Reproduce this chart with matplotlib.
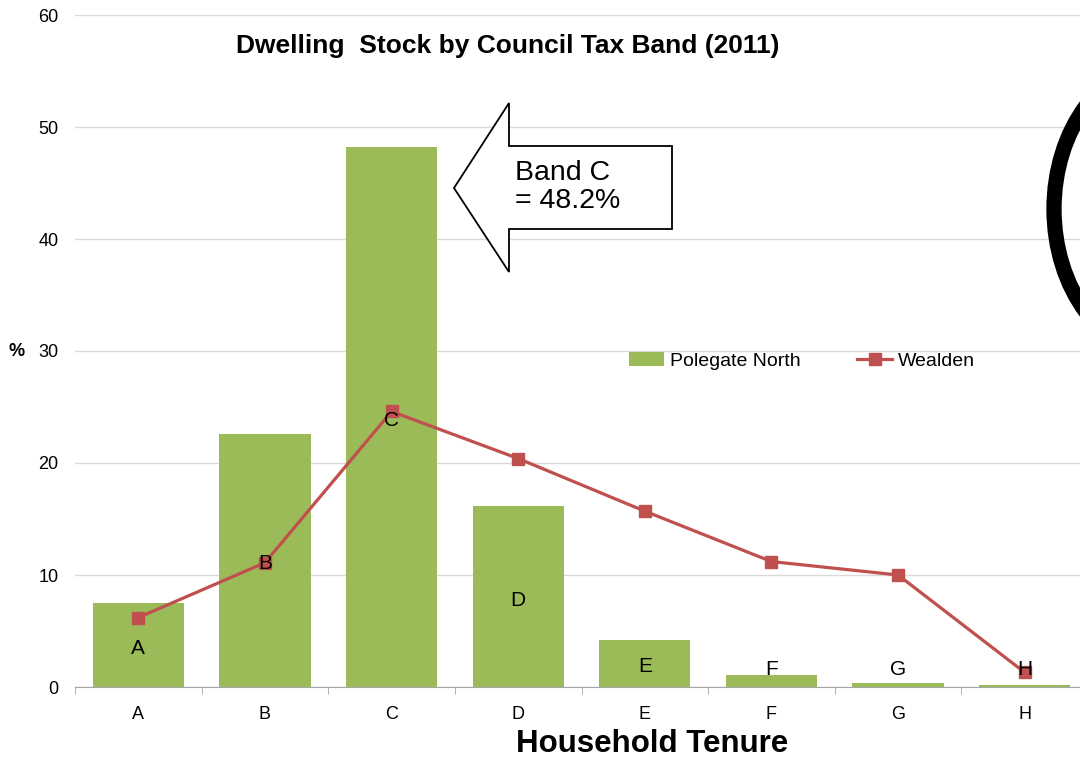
import matplotlib.pyplot as plt
from matplotlib.patches import Polygon, Ellipse
import numpy as np

plt.rcParams['font.family'] = ['Liberation Sans', 'DejaVu Sans']

bands = ['A', 'B', 'C', 'D', 'E', 'F', 'G', 'H']
polegate = [7.5, 22.6, 48.2, 16.2, 4.2, 1.1, 0.35, 0.2]
wealden = [6.2, 11.1, 24.6, 20.4, 15.7, 11.2, 10.0, 1.3]
# heights of the letter labels drawn on the chart
letter_y = [3.4, 11.0, 23.8, 7.7, 1.8, 1.6, 1.6, 1.6]

W, H = 1080, 762
fig = plt.figure(figsize=(W / 100, H / 100), dpi=100)
# plot area runs a little past the right edge of the image
ax = fig.add_axes([75 / W, 1 - 687 / H, (1088 - 75) / W, (687 - 15) / H])

x = np.arange(len(bands))
bars = ax.bar(x, polegate, width=0.72, color='#9BBB59', label='Polegate North', zorder=2)
line, = ax.plot(x, wealden, color='#C0504D', lw=2.3, marker='s', ms=8,
                label='Wealden', zorder=3)

for xi, lab, yv in zip(x, bands, letter_y):
    ax.text(xi, yv, lab, ha='center', va='center', fontsize=15, zorder=4)

ax.set_xlim(-0.5, len(bands) - 0.5)
ax.set_ylim(0, 60)
ax.set_yticks(range(0, 61, 10))
ax.set_xticks(x)
ax.set_xticklabels(bands)
ax.set_xticks(np.arange(-0.5, len(bands)), minor=True)
ax.tick_params(axis='x', which='major', length=0, pad=14, labelsize=13)
ax.tick_params(axis='x', which='minor', length=5, color='#A6A6A6')
ax.tick_params(axis='y', length=0, pad=12, labelsize=13)
ax.grid(axis='y', color='#D9D9D9', lw=1, zorder=0)
ax.set_axisbelow(True)
for s in ['left', 'right', 'top']:
    ax.spines[s].set_visible(False)
ax.spines['bottom'].set_color('#A6A6A6')

ax.legend([bars, line], ['Polegate North', 'Wealden'], loc='center',
          bbox_to_anchor=(0.718, 0.485), ncol=2, frameon=False,
          fontsize=14, handlelength=1.8, columnspacing=2.9, handletextpad=0.3)

fig.text(508 / W, 1 - 46 / H, 'Dwelling  Stock by Council Tax Band (2011)',
         ha='center', va='center', fontsize=19, fontweight='bold')
fig.text(652 / W, 1 - 744 / H, 'Household Tenure', ha='center', va='center',
         fontsize=22.5, fontweight='bold')
fig.text(17 / W, 1 - 351 / H, '%', ha='center', va='center', fontsize=13,
         fontweight='bold')

# callout arrow
pts = [(454, 188), (509, 103), (509, 146), (672, 146), (672, 229),
       (509, 229), (509, 272)]
fig.patches.append(Polygon([(px / W, 1 - py / H) for px, py in pts], closed=True,
                           transform=fig.transFigure, facecolor='white',
                           edgecolor='black', lw=1.3, zorder=5))
fig.text(515 / W, 1 - 187 / H, 'Band C\n= 48.2%', ha='left', va='center',
         fontsize=20.5, linespacing=1.15, zorder=6)

# hand drawn circle at right edge
fig.patches.append(Ellipse((1164 / W, 1 - 209 / H), 220 / W, 292 / H,
                           transform=fig.transFigure, fill=False,
                           edgecolor='black', lw=11, zorder=5))

fig.savefig('out.png', dpi=100)
